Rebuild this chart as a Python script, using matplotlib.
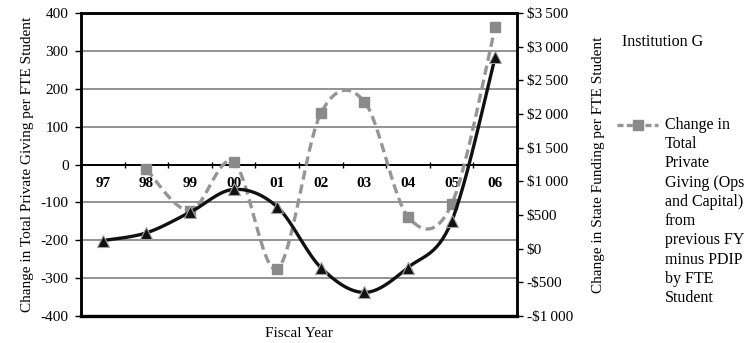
import numpy as np
import matplotlib
matplotlib.use("Agg")
from matplotlib import pyplot as plt
from matplotlib.lines import Line2D
from matplotlib.ticker import FuncFormatter

plt.rcParams['font.family'] = ['Liberation Serif', 'DejaVu Serif']
plt.rcParams['axes.unicode_minus'] = False

# data
years = ['97', '98', '99', '00', '01', '02', '03', '04', '05', '06']
private_giving = [np.nan, -13, -122, 7, -276, 135, 166, -138, -105, 364]   # left axis
state_funding = [120, 235, 540, 880, 620, -280, -650, -280, 405, 2845]    # right axis ($)
left_ticks = list(range(-400, 401, 100))
right_ticks = list(range(-1000, 3501, 500))

legend_label = ("Change in\nTotal\nPrivate\nGiving (Ops\nand Capital)\nfrom\n"
                "previous FY\nminus PDIP\nby FTE\nStudent")


def smooth(xs, ys, steps=30):
  """Excel-like smoothed line: Catmull-Rom through the points"""
  pts = [(x, y) for x, y in zip(xs, ys) if not np.isnan(y)]
  px = np.array([p[0] for p in pts], float)
  py = np.array([p[1] for p in pts], float)
  outx, outy = [], []
  t = np.linspace(0, 1, steps)
  for i in range(len(px) - 1):
     i0 = max(i - 1, 0); i3 = min(i + 2, len(px) - 1)
     c1x = px[i] + (px[i + 1] - px[i0]) / 6.0
     c1y = py[i] + (py[i + 1] - py[i0]) / 6.0
     c2x = px[i + 1] - (px[i3] - px[i]) / 6.0
     c2y = py[i + 1] - (py[i3] - py[i]) / 6.0
     bx = (1-t)**3*px[i] + 3*(1-t)**2*t*c1x + 3*(1-t)*t**2*c2x + t**3*px[i+1]
     by = (1-t)**3*py[i] + 3*(1-t)**2*t*c1y + 3*(1-t)*t**2*c2y + t**3*py[i+1]
     outx.extend(bx); outy.extend(by)
  return np.array(outx), np.array(outy)


W, H = 745, 343
fig = plt.figure(figsize=(W/100, H/100), dpi=100)
ax = fig.add_axes([81/W, 1 - 316/H, 436/W, 303/H])
ax2 = ax.twinx()

x = np.arange(len(years))
gray = '#959595'
black = '#111111'

# gray dashed series, left axis
sx, sy = smooth(x, private_giving)
ax.plot(sx, sy, color=gray, lw=2.4, dashes=(2.8, 1.5), zorder=3)
ax.plot(x, private_giving, ls='none', marker='s', ms=7, color='#8a8a8a', zorder=4)

# black series, right axis
bx, by = smooth(x, state_funding)
ax2.plot(bx, by, color=black, lw=2.4, zorder=3)
ax2.plot(x, state_funding, ls='none', marker='^', ms=9, color=black,
         markeredgecolor='#a0a0a0', markeredgewidth=0.8, zorder=4)

ax.set_xlim(-0.5, len(years) - 0.5)
ax.set_ylim(-400, 400)
ax2.set_ylim(-1000, 3500)

ax.set_yticks(left_ticks)
ax.set_yticklabels([str(v) for v in left_ticks])
ax2.set_yticks(right_ticks)


def dollars(v, pos):
  s = '{:,.0f}'.format(abs(v)).replace(',', '\u2009')
  return ('-$' if v < 0 else '$') + s


ax2.yaxis.set_major_formatter(FuncFormatter(dollars))

ax.yaxis.grid(True, color='#8a8a8a', lw=1.3)
ax.set_axisbelow(True)

# category axis crossing at zero
ax.spines['bottom'].set_position(('data', 0))
ax.spines['bottom'].set_linewidth(1.4)
ax.axhline(-400, color='black', lw=2.4, clip_on=False, zorder=5)
ax.set_xticks(x)
ax.set_xticklabels(years, fontweight='bold', fontsize=11)
ax.set_xticks(np.arange(-0.5, len(years), 1), minor=True)
ax.tick_params(axis='x', which='major', length=0, pad=9)
ax.tick_params(axis='x', which='minor', length=5, direction='inout', width=1)

for a in (ax, ax2):
  for side in ('left', 'right', 'top'):
     a.spines[side].set_linewidth(1.8)
ax2.spines['bottom'].set_visible(False)

ax.tick_params(axis='y', length=4, width=1, labelsize=11, pad=5)
ax2.tick_params(axis='y', length=4, width=1, labelsize=11, pad=3)

ax.set_ylabel('Change in Total Private Giving per FTE Student', fontsize=11, labelpad=5)
ax2.set_ylabel('Change in State Funding per FTE Student', fontsize=11, labelpad=14)
ax.set_xlabel('Fiscal Year', fontsize=11)
ax.xaxis.set_label_coords(0.5, -0.035)

# legend area
fig.text(622/W, 1 - 42/H, 'Institution G', fontsize=11.5, va='center', ha='left')
fig.add_artist(Line2D(np.array([617, 637.5, 658])/W, [1 - 125/H]*3, transform=fig.transFigure,
                      color=gray, lw=2.4, dashes=(1.8, 1.0), marker='s', ms=7,
                      markevery=[1], markerfacecolor='#8a8a8a', markeredgecolor='#8a8a8a'))
fig.text(665/W, 1 - 117/H, legend_label, fontsize=11.5, va='top', ha='left', linespacing=1.27)

fig.savefig('out.png', dpi=100)
